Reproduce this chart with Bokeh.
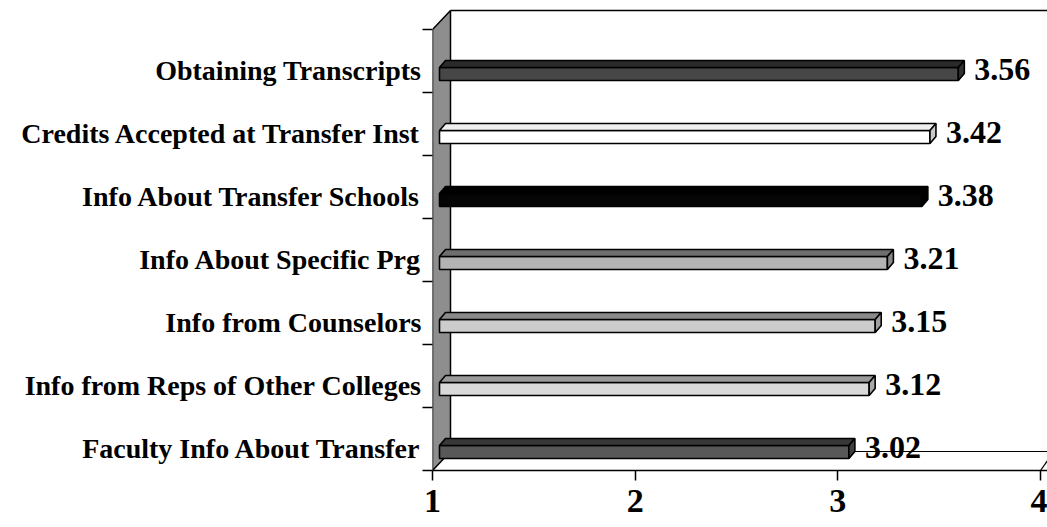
from bokeh.plotting import figure
from bokeh.models import Range1d, FixedTicker, ColumnDataSource
from bokeh.embed import file_html
from bokeh.resources import INLINE
from bokeh.core.properties import value

# ---- data (bottom to top) ----
categories = ["Faculty Info About Transfer", "Info from Reps of Other Colleges",
              "Info from Counselors", "Info About Specific Prg",
              "Info About Transfer Schools", "Credits Accepted at Transfer Inst",
              "Obtaining Transcripts"]
scores = [3.02, 3.12, 3.15, 3.21, 3.38, 3.42, 3.56]
score_labels = ["3.02", "3.12", "3.15", "3.21", "3.38", "3.42", "3.56"]
x_ticks = [1, 2, 3, 4]

# ---- styles ----
front_colors = ["#585858", "#d9d9d9", "#cccccc", "#b3b3b3", "#050505", "#ffffff", "#474747"]
top_colors = ["#383838", "#9a9a9a", "#8a8a8a", "#6e6e6e", "#000000", "#f0f0f0", "#2a2a2a"]
side_colors = ["#404040", "#a8a8a8", "#a0a0a0", "#888888", "#000000", "#c8c8c8", "#333333"]
FONT = "Liberation Serif"

W, H = 1047, 527
LEFT, BOTTOM = 432, 57
frame_w = W - LEFT
frame_h = H - BOTTOM
px_x = 608 / 3.0
x0 = 1.0
x1 = x0 + frame_w / px_x
unit_y = 63.0
y0 = -0.35
y1 = y0 + frame_h / unit_y


def dxp(px):
    return px / px_x


def dyp(px):
    return px / unit_y


p = figure(width=W, height=H, output_backend="svg", toolbar_location=None,
           x_range=Range1d(x0, x1), y_range=Range1d(y0, y1),
           min_border_left=LEFT, min_border_right=0, min_border_top=0,
           min_border_bottom=BOTTOM)
p.outline_line_color = None
p.xgrid.visible = False
p.ygrid.visible = False
p.background_fill_color = "white"
p.border_fill_color = "white"

n = len(categories)
wdx, wdy = dxp(18), dyp(19)
y_top_front = y0 + n

# left wall
p.patch([x0, x0 + wdx, x0 + wdx, x0], [y_top_front, y_top_front + wdy, y0 + wdy, y0],
        fill_color="#8e8e8e", line_color="black", line_width=1.5)
# back top and back floor lines, right floor edge
p.line([x0 + wdx, x1 + 0.2], [y_top_front + wdy] * 2, line_color="black", line_width=1.5)
p.line([x0 + wdx, 4 + wdx - 0.02], [y0 + wdy] * 2, line_color="black", line_width=1.2)
p.line([4, 4 + wdx * 0.6], [y0, y0 + wdy * 0.8], line_color="black", line_width=1.2)

# bars (pseudo 3D)
sx = dxp(7)
bdx, bdy = dxp(6), dyp(7)
f_lo, f_hi = dyp(10), dyp(3)
ys = list(range(n))
lefts = [x0 + sx] * n
rights = [s + sx for s in scores]

src = ColumnDataSource(dict(y=[k + (f_hi - f_lo) / 2 for k in ys], left=lefts, right=rights,
                            color=front_colors))
p.hbar(y="y", left="left", right="right", height=f_hi + f_lo, fill_color="color",
       line_color="black", line_width=1.6, source=src)

top_xs = [[l, r, r + bdx, l + bdx] for l, r in zip(lefts, rights)]
top_ys = [[k + f_hi, k + f_hi, k + f_hi + bdy, k + f_hi + bdy] for k in ys]
p.patches(top_xs, top_ys, fill_color=top_colors, line_color="black", line_width=1.6)

side_xs = [[r, r + bdx, r + bdx, r] for r in rights]
side_ys = [[k + f_hi, k + f_hi + bdy, k - f_lo + bdy, k - f_lo] for k in ys]
p.patches(side_xs, side_ys, fill_color=side_colors, line_color="black", line_width=1.6)

# value labels
p.text(x=scores, y=ys, text=score_labels, x_offset=23, y_offset=-1, text_align="left",
       text_baseline="middle", text_font=value(FONT), text_font_style="bold",
       text_font_size="32px", text_color="black")

# axes
p.xaxis.ticker = FixedTicker(ticks=x_ticks)
p.xaxis.axis_line_color = "black"
p.xaxis.axis_line_width = 1.5
p.xaxis.major_tick_out = 10
p.xaxis.major_tick_in = 0
p.xaxis.major_tick_line_width = 1.5
p.xaxis.minor_tick_line_color = None
p.xaxis.major_label_standoff = 9
p.xaxis.major_label_text_font = FONT
p.xaxis.major_label_text_font_style = "bold"
p.xaxis.major_label_text_font_size = "34px"
p.xaxis.major_label_text_color = "black"

p.yaxis.ticker = FixedTicker(ticks=ys, minor_ticks=[y0 + i for i in range(n + 1)])
p.yaxis.major_label_overrides = {k: categories[k] for k in ys}
p.yaxis.axis_line_color = None
p.yaxis.major_tick_line_color = None
p.yaxis.minor_tick_line_color = "black"
p.yaxis.minor_tick_line_width = 1.5
p.yaxis.minor_tick_out = 10
p.yaxis.minor_tick_in = 0
p.yaxis.major_label_standoff = 1
p.yaxis.major_label_text_font = FONT
p.yaxis.major_label_text_font_style = "bold"
p.yaxis.major_label_text_font_size = "28px"
p.yaxis.major_label_text_color = "black"

open("out.html", "w").write(file_html(p, INLINE))
